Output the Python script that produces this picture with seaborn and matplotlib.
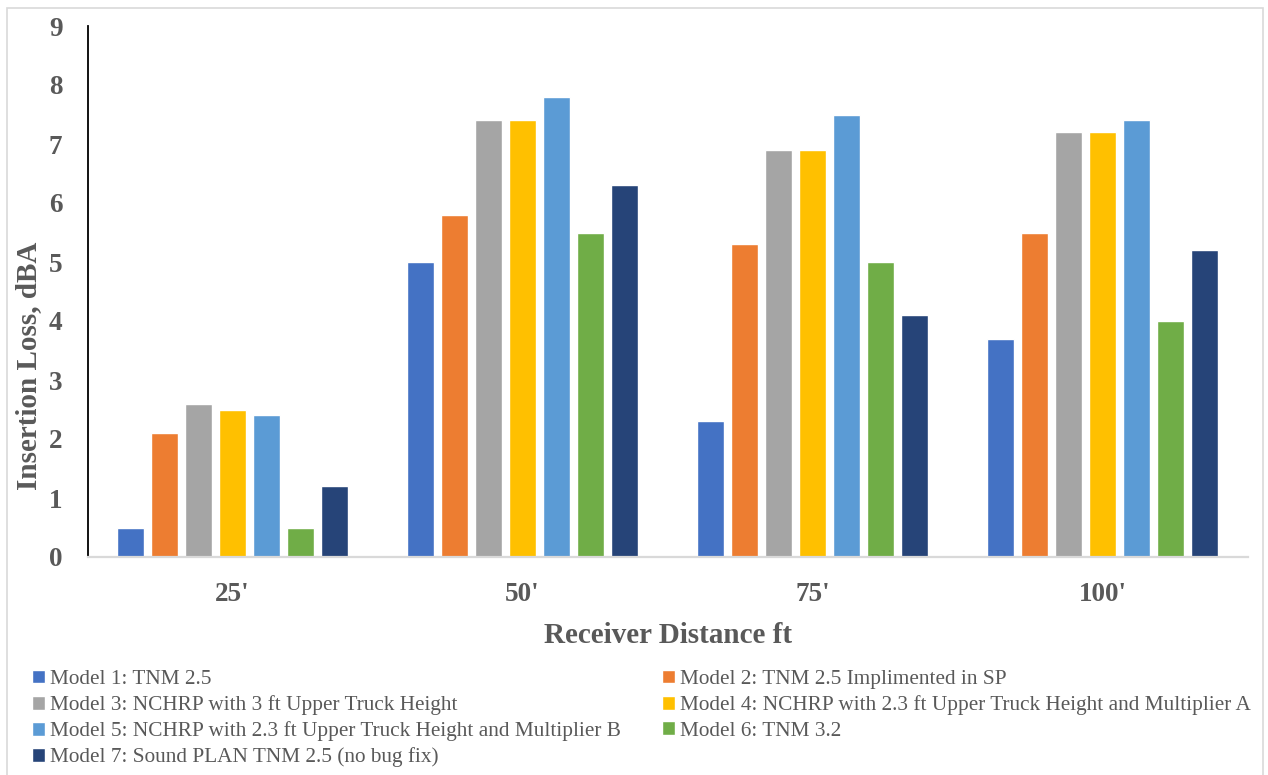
import matplotlib
matplotlib.use("Agg")
import matplotlib.pyplot as plt
from matplotlib.patches import Rectangle
import pandas as pd
import seaborn as sns

# Insertion loss (dBA) per model at each receiver distance
distances = ["25'", "50'", "75'", "100'"]
models = [
    "Model 1: TNM 2.5",
    "Model 2: TNM 2.5 Implimented in SP",
    "Model 3: NCHRP with 3 ft Upper Truck Height",
    "Model 4: NCHRP with 2.3 ft Upper Truck Height and Multiplier A",
    "Model 5: NCHRP with 2.3 ft Upper Truck Height and Multiplier B",
    "Model 6: TNM 3.2",
    "Model 7: Sound PLAN TNM 2.5 (no bug fix)",
]
model1 = [0.5, 5.0, 2.3, 3.7]
model2 = [2.1, 5.8, 5.3, 5.5]
model3 = [2.6, 7.4, 6.9, 7.2]
model4 = [2.5, 7.4, 6.9, 7.2]
model5 = [2.4, 7.8, 7.5, 7.4]
model6 = [0.5, 5.5, 5.0, 4.0]
model7 = [1.2, 6.3, 4.1, 5.2]
y_ticks = [0, 1, 2, 3, 4, 5, 6, 7, 8, 9]

colors = ["#4472C4", "#ED7D31", "#A5A5A5", "#FFC000", "#5B9BD5", "#70AD47", "#264478"]
text_color = "#595959"

series = [model1, model2, model3, model4, model5, model6, model7]
rows = []
for name, vals in zip(models, series):
    for d, v in zip(distances, vals):
        rows.append({"distance": d, "loss": v, "model": name})
df = pd.DataFrame(rows)

sns.set_style("white")
plt.rcParams["font.family"] = ["Liberation Serif", "DejaVu Serif"]

fig = plt.figure(figsize=(12.68, 7.75), dpi=100)
ax = fig.add_axes([87.5 / 1268, 1 - 557 / 775, 1160 / 1268, 531 / 775])

sns.barplot(data=df, x="distance", y="loss", hue="model", order=distances,
            hue_order=models, palette=colors, saturation=1, width=0.82,
            gap=0.2, errorbar=None, ax=ax)

handles, labels = ax.get_legend_handles_labels()
ax.get_legend().remove()

ax.set_ylim(0, 9)
ax.set_xlim(-0.5, len(distances) - 0.5)
ax.set_yticks(y_ticks)
ax.tick_params(axis="both", length=0, labelsize=19.5, labelcolor=text_color, pad=18)
for lab in ax.get_xticklabels() + ax.get_yticklabels():
    lab.set_fontweight("bold")

for side in ["top", "right"]:
    ax.spines[side].set_visible(False)
ax.spines["left"].set_color("black")
ax.spines["left"].set_linewidth(1.3)
ax.spines["bottom"].set_color("#D9D9D9")
ax.spines["bottom"].set_linewidth(1.6)

ax.set_xlabel("Receiver Distance ft", fontsize=21, fontweight="bold", color=text_color)
ax.xaxis.label.set_va("center")
ax.xaxis.set_label_coords(0.5, -0.148)
ax.set_ylabel("Insertion Loss, dBA", fontsize=21, fontweight="bold", color=text_color)
ax.yaxis.set_label_coords(-0.039, 0.36)

# Two-column legend laid out row by row
leg_kw = dict(frameon=False, fontsize=15.3, labelcolor=text_color,
              handlelength=0.6, handleheight=0.6, handletextpad=0.25,
              labelspacing=0.29, borderpad=0, borderaxespad=0,
              loc="upper left", bbox_transform=fig.transFigure)
left_idx = [0, 2, 4, 6]
right_idx = [1, 3, 5]
leg1 = fig.legend([handles[i] for i in left_idx], [labels[i] for i in left_idx],
                  bbox_to_anchor=(32 / 1268, 1 - 670 / 775), **leg_kw)
leg2 = fig.legend([handles[i] for i in right_idx], [labels[i] for i in right_idx],
                  bbox_to_anchor=(662 / 1268, 1 - 670 / 775), **leg_kw)

# Light chart-area border
fig.patches.append(Rectangle((7 / 1268, -0.05), 1256 / 1268, 1.05 - 8 / 775,
                             transform=fig.transFigure, fill=False,
                             edgecolor="#D9D9D9", linewidth=1.2))

fig.savefig("out.png", dpi=100)
